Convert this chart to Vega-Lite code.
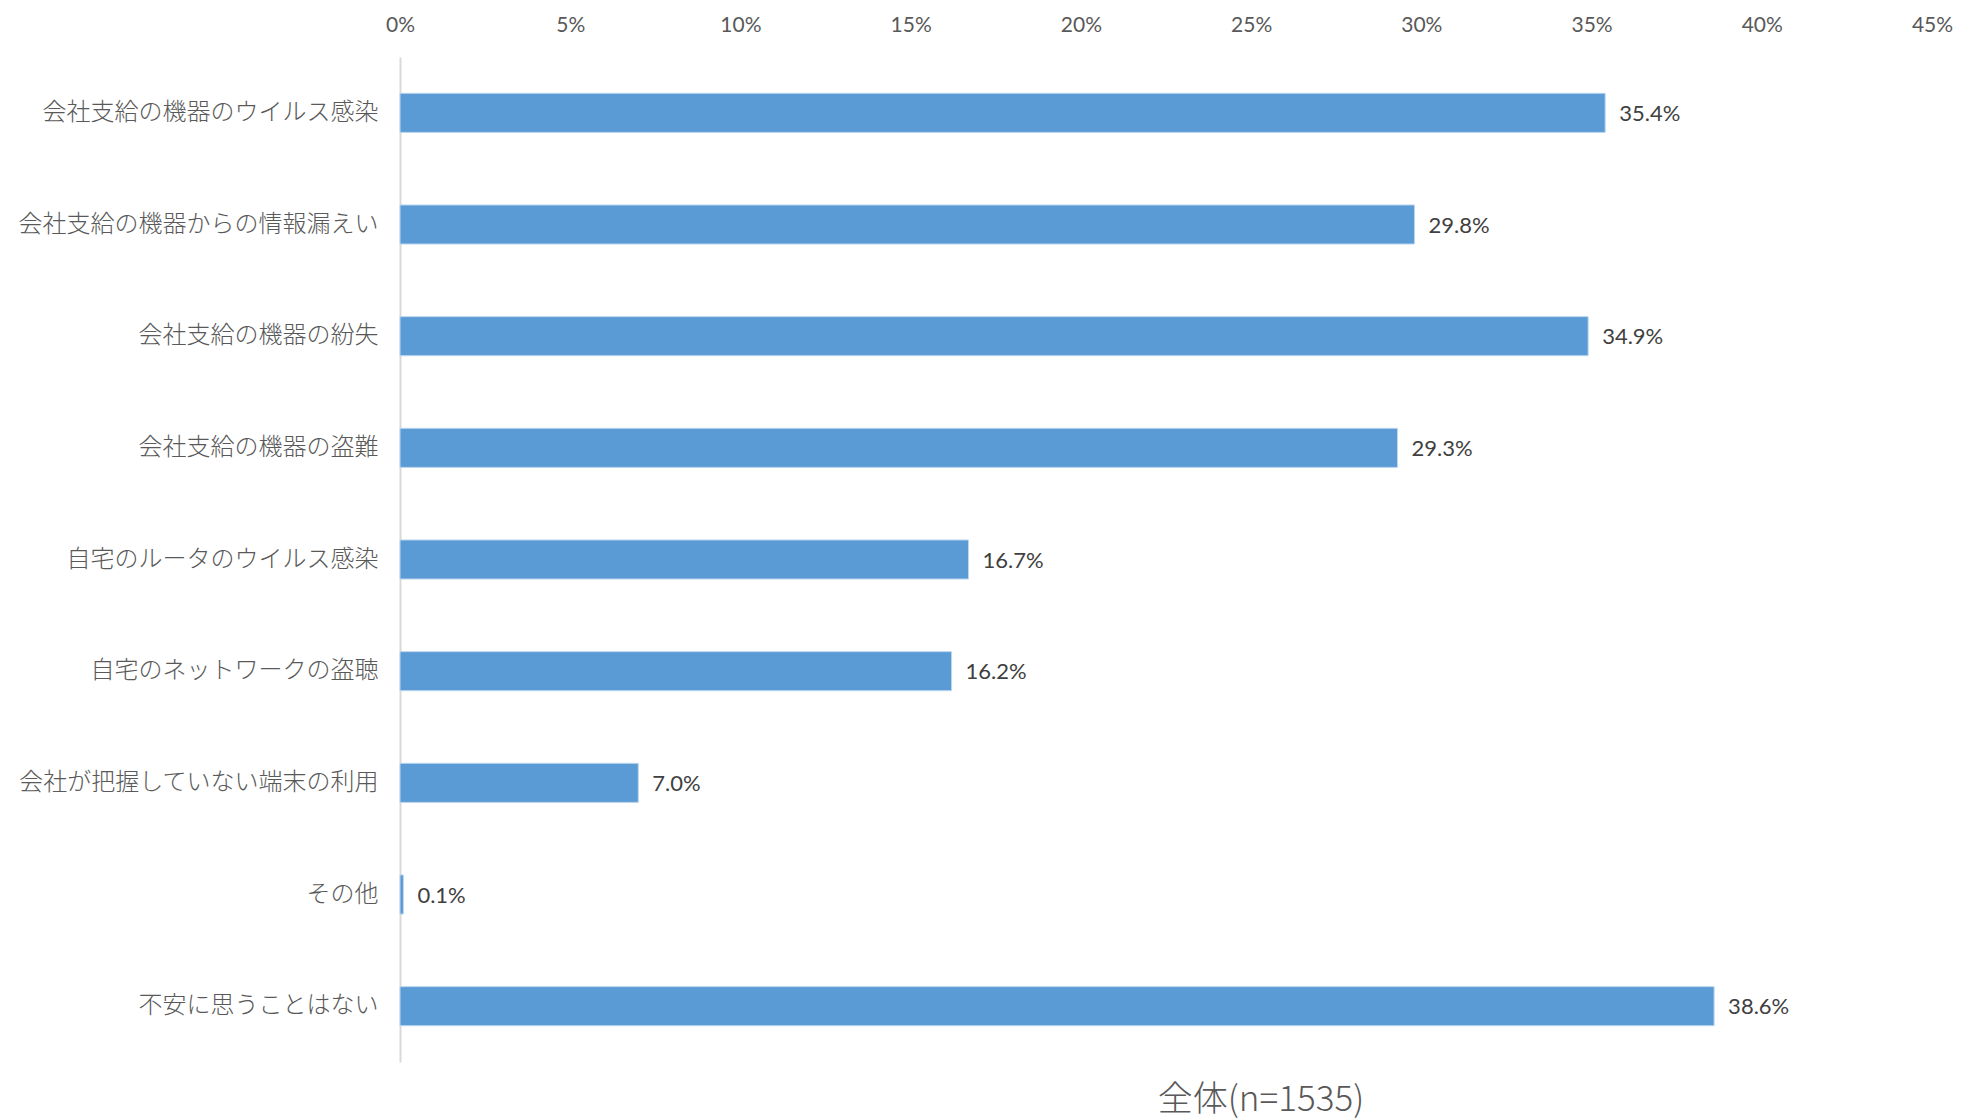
{
  "$schema": "https://vega.github.io/schema/vega-lite/v6.json",
  "width": 1532,
  "height": 1005,
  "autosize": {"type": "none"},
  "padding": {"left": 400, "top": 57, "right": 39, "bottom": 58},
  "background": "white",
  "config": {"view": {"stroke": null}},
  "title": {
    "text": "全体(n=1535)",
    "orient": "bottom",
    "anchor": "middle",
    "dx": 95,
    "offset": 21,
    "font": "Noto Sans CJK JP",
    "fontWeight": 300,
    "fontSize": 35,
    "color": "#595959"
  },
  "data": {
    "values": [
      {"item": "会社支給の機器のウイルス感染", "value": 0.354},
      {"item": "会社支給の機器からの情報漏えい", "value": 0.298},
      {"item": "会社支給の機器の紛失", "value": 0.349},
      {"item": "会社支給の機器の盗難", "value": 0.293},
      {"item": "自宅のルータのウイルス感染", "value": 0.167},
      {"item": "自宅のネットワークの盗聴", "value": 0.162},
      {"item": "会社が把握していない端末の利用", "value": 0.07},
      {"item": "その他", "value": 0.001},
      {"item": "不安に思うことはない", "value": 0.386}
    ]
  },
  "encoding": {
    "y": {
      "field": "item",
      "type": "nominal",
      "sort": null,
      "title": null,
      "scale": {"paddingInner": 0.65, "paddingOuter": 0.325},
      "axis": {
        "domainColor": "#D9D9D9",
        "domainWidth": 2,
        "ticks": false,
        "labelPadding": 22,
        "labelFont": "Noto Sans CJK JP",
        "labelFontWeight": 300,
        "labelFontSize": 24,
        "labelColor": "#595959",
        "labelLimit": 400
      }
    }
  },
  "layer": [
    {
      "mark": {"type": "bar", "color": "#5B9BD5", "stroke": "#BDD7EE", "strokeWidth": 1},
      "encoding": {
        "x": {
          "field": "value",
          "type": "quantitative",
          "scale": {"domain": [0, 0.45], "nice": false},
          "title": null,
          "axis": {
            "orient": "top",
            "format": ".0%",
            "values": [0, 0.05, 0.1, 0.15, 0.2, 0.25, 0.3, 0.35, 0.4, 0.45],
            "grid": false,
            "domain": false,
            "ticks": false,
            "labelPadding": 22,
            "labelFont": "Lato",
            "labelFontSize": 21,
            "labelColor": "#595959",
            "labelFlush": false
          }
        }
      }
    },
    {
      "mark": {"type": "text", "align": "left", "baseline": "middle", "dx": 14, "dy": 1, "font": "Lato", "fontSize": 22, "color": "#404040"},
      "encoding": {
        "x": {"field": "value", "type": "quantitative"},
        "text": {"field": "value", "type": "quantitative", "format": ".1%"}
      }
    }
  ]
}
